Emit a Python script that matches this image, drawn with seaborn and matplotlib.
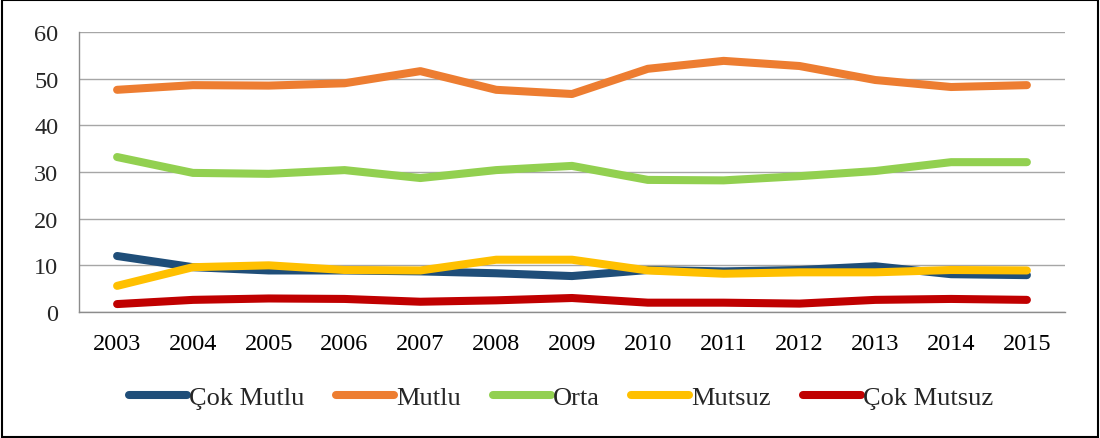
import matplotlib
matplotlib.use("Agg")
import matplotlib.pyplot as plt
import seaborn as sns
import pandas as pd
from matplotlib.patches import Rectangle

years = ["2003", "2004", "2005", "2006", "2007", "2008", "2009",
         "2010", "2011", "2012", "2013", "2014", "2015"]
cok_mutlu = [12.0, 9.6, 8.9, 8.9, 8.7, 8.3, 7.7, 9.0, 8.7, 9.0, 9.8, 8.1, 7.9]
mutlu = [47.6, 48.6, 48.5, 49.0, 51.6, 47.6, 46.7, 52.1, 53.8, 52.7, 49.7, 48.2, 48.6]
orta = [33.2, 29.8, 29.6, 30.4, 28.7, 30.4, 31.3, 28.3, 28.2, 29.1, 30.2, 32.1, 32.1]
mutsuz = [5.6, 9.6, 10.0, 9.0, 8.9, 11.2, 11.2, 8.9, 8.2, 8.5, 8.5, 9.0, 8.9]
cok_mutsuz = [1.7, 2.6, 2.9, 2.8, 2.2, 2.5, 3.0, 2.0, 2.0, 1.8, 2.6, 2.8, 2.6]
series_names = ["Çok Mutlu", "Mutlu", "Orta", "Mutsuz", "Çok Mutsuz"]
colors = ["#1F4E79", "#ED7D31", "#92D050", "#FFC000", "#C00000"]

rows = []
for name, vals in zip(series_names, [cok_mutlu, mutlu, orta, mutsuz, cok_mutsuz]):
    for i, v in enumerate(vals):
        rows.append({"idx": i, "value": v, "series": name})
df = pd.DataFrame(rows)

sns.set_style("white")
plt.rcParams['font.family'] = ['Liberation Serif', 'DejaVu Serif']

fig = plt.figure(figsize=(11, 4.39), dpi=100)
ax = fig.add_axes([0.072, 0.287, 0.896, 0.638])

sns.lineplot(data=df, x="idx", y="value", hue="series", hue_order=series_names,
             palette=colors, linewidth=5.8, sort=False, ax=ax, legend=False,
             solid_capstyle="round", solid_joinstyle="round")

ax.set_xlim(-0.5, len(years) - 0.5)
ax.set_ylim(0, 60)
ax.set_yticks(range(0, 61, 10))
ax.set_xticks(range(len(years)))
ax.set_xticklabels(years)
ax.set_xticks([i - 0.5 for i in range(len(years) + 1)], minor=True)
ax.tick_params(axis="x", which="major", length=0, labelsize=17.5, pad=15, colors="black")
ax.tick_params(axis="x", which="minor", length=6.5, width=1, color="#8c8c8c", direction="out")
ax.tick_params(axis="y", which="major", length=5, width=1, color="#8c8c8c", labelsize=17.5,
               direction="out", pad=10)
ax.set_xlabel("")
ax.set_ylabel("")
ax.grid(axis="y", color="#a6a6a6", linewidth=1)
ax.set_axisbelow(True)
for s in ["top", "right"]:
    ax.spines[s].set_visible(False)
for s in ["left", "bottom"]:
    ax.spines[s].set_color("#8c8c8c")
    ax.spines[s].set_linewidth(1)

handles = [plt.Line2D([0], [0], color=c, linewidth=5.8, solid_capstyle="round")
           for c in colors]
fig.legend(handles, series_names, loc="center", bbox_to_anchor=(0.51, 0.093), ncol=5,
           frameon=False, fontsize=19, handlelength=2.2, handletextpad=0.08,
           columnspacing=1.2)

fig.patches.append(Rectangle((0.002, 0.003), 0.996, 0.994, transform=fig.transFigure,
                             fill=False, edgecolor="black", linewidth=1.5))

fig.savefig("out.png", dpi=100)
